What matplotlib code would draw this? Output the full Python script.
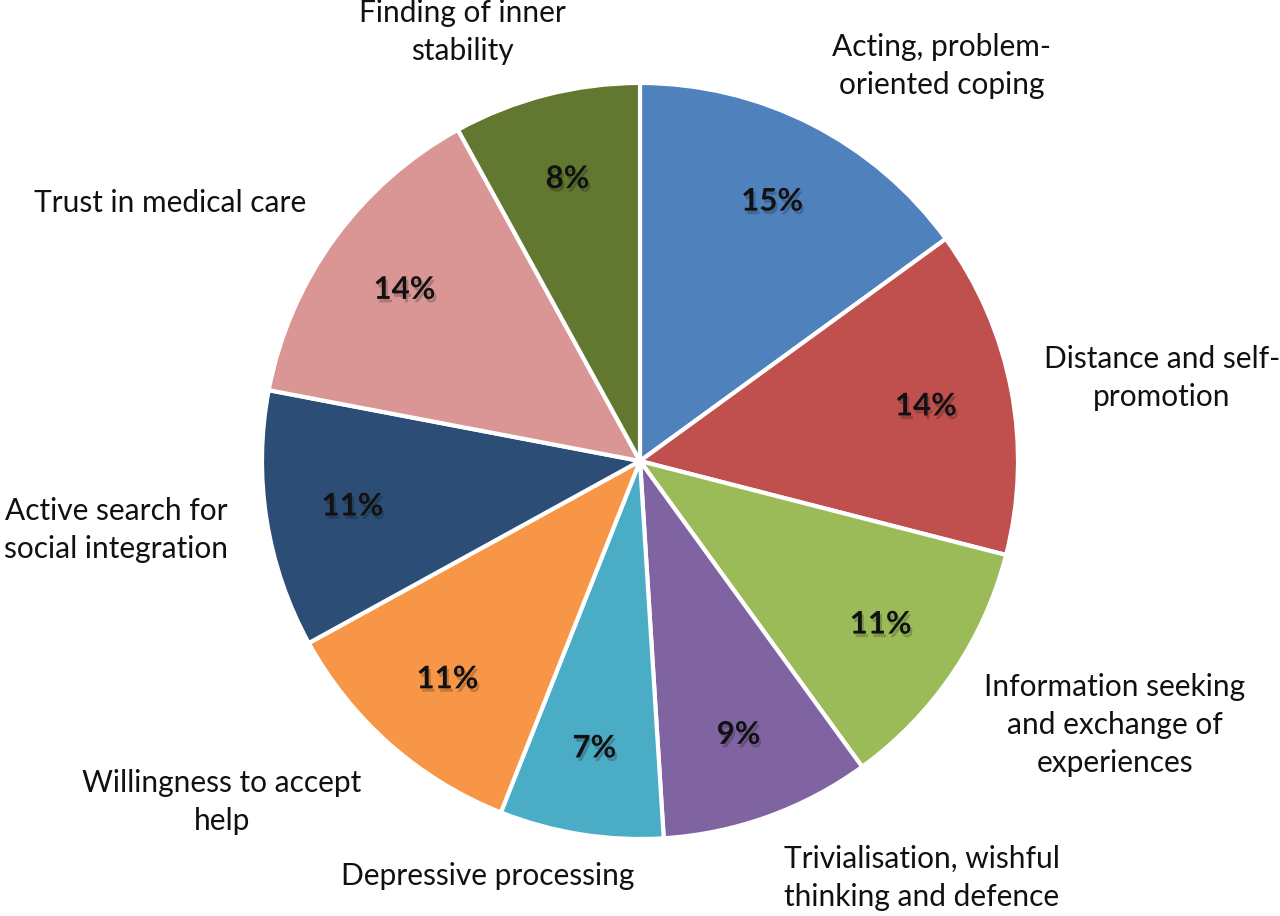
import matplotlib.pyplot as plt
import matplotlib.patheffects as pe

# slices clockwise from 12 o'clock
categories = [
    "Acting, problem-\noriented coping",
    "Distance and self-\npromotion",
    "Information seeking\nand exchange of\nexperiences",
    "Trivialisation, wishful\nthinking and defence",
    "Depressive processing",
    "Willingness to accept\nhelp",
    "Active search for\nsocial integration",
    "Trust in medical care",
    "Finding of inner\nstability",
]
shares = [15, 14, 11, 9, 7, 11, 11, 14, 8]
colors = ["#4F81BD", "#C0504D", "#9BBB59", "#8064A2", "#4BACC6",
          "#F79646", "#2C4D75", "#D99694", "#62772F"]

# label centres in pixel coords (x, y from top)
label_pos = [(942, 66), (1162, 378), (1115, 725), (922, 878), (488, 876),
             (222, 802), (116, 530), (170, 203), (462, 32)]

W, H = 1280, 916
fig = plt.figure(figsize=(W / 100, H / 100), dpi=100)
ax = fig.add_axes([0, 0, 1, 1])
ax.set_aspect("equal")
ax.axis("off")

cx, cy, R = 640, H - 461, 378
wedges, texts, autotexts = ax.pie(
    shares, colors=colors, startangle=90, counterclock=False,
    center=(cx, cy), radius=R, autopct="%d%%", pctdistance=0.77,
    wedgeprops=dict(edgecolor="white", linewidth=3),
    textprops=dict(fontsize=22.5, fontweight="bold", family="Lato", color="#111111"),
)
ax.set_xlim(0, W)
ax.set_ylim(0, H)

for t in autotexts:
    t.set_path_effects([pe.withSimplePatchShadow(offset=(1.5, -2.5), shadow_rgbFace="black", alpha=0.2)])

for lab, (px, py) in zip(categories, label_pos):
    ax.text(px, H - py, lab, ha="center", va="center", fontsize=21.5,
            family="Lato", color="#111111", linespacing=1.45)

fig.savefig("out.png", dpi=100, facecolor="white")
